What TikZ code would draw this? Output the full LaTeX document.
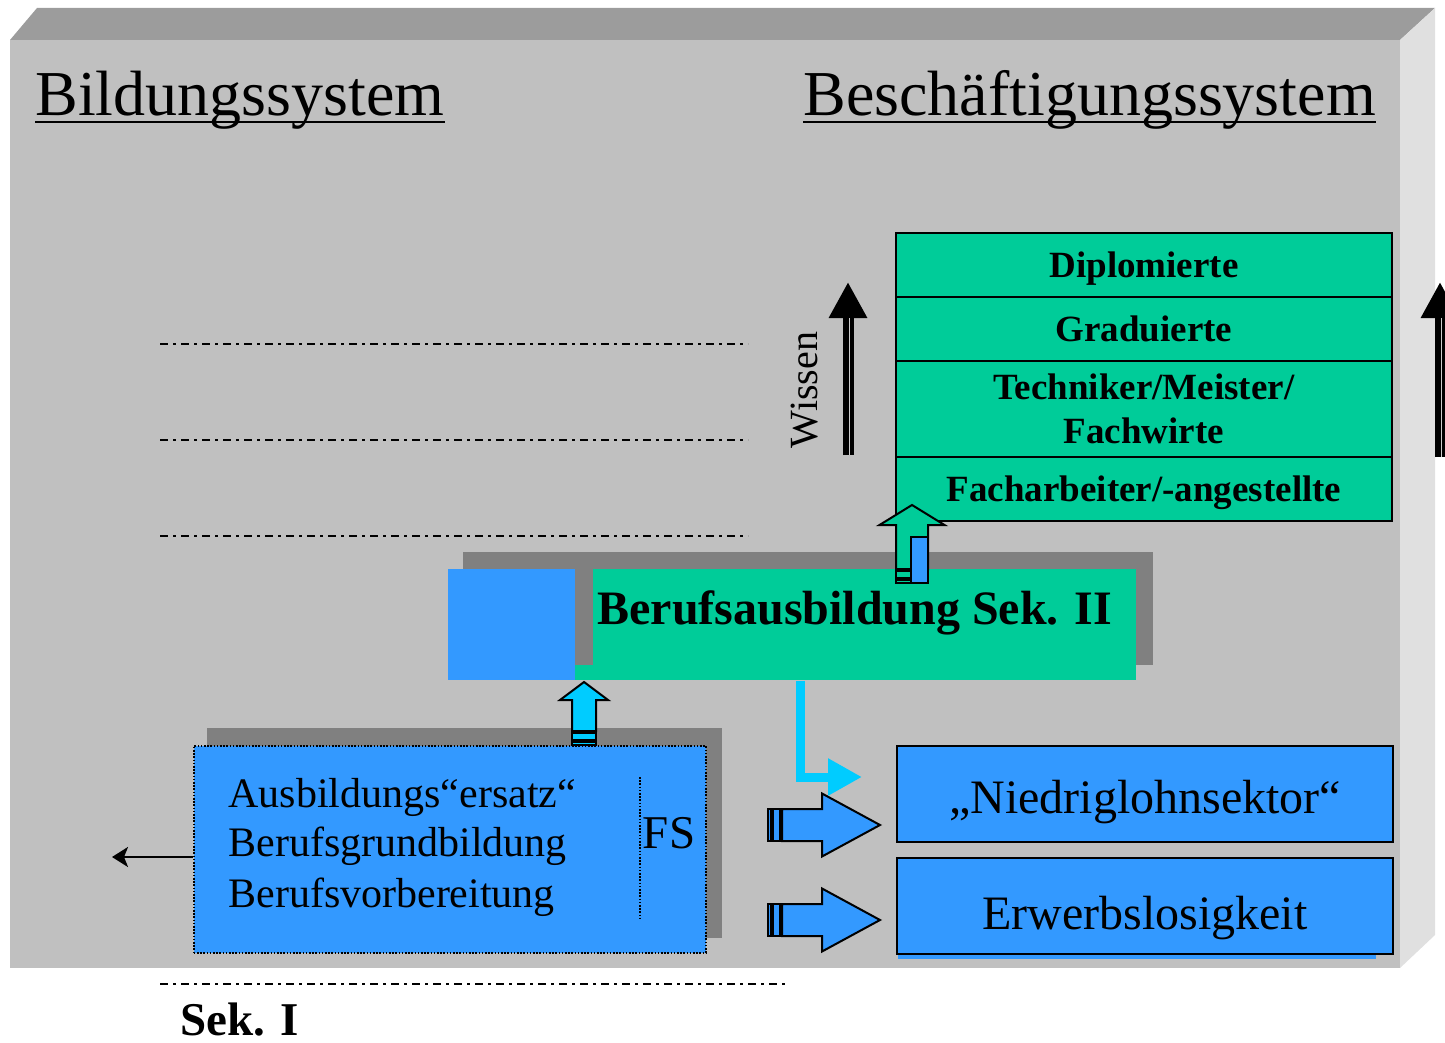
\documentclass[tikz,border=0pt]{standalone}
\usepackage{fontspec}
\setmainfont{Liberation Serif}
\usepackage{tikz}
\usetikzlibrary{positioning,arrows.meta,calc}
\definecolor{bggray}{HTML}{C0C0C0}
\definecolor{topgray}{HTML}{9C9C9C}
\definecolor{sidegray}{HTML}{E0E0E0}
\definecolor{shadowgray}{HTML}{808080}
\definecolor{cgreen}{HTML}{00CC99}
\definecolor{cblue}{HTML}{3399FF}
\definecolor{ccyan}{HTML}{00CCFF}
\tikzset{
  levelbox/.style={draw, line width=1pt, fill=cgreen, minimum width=248pt, minimum height=32pt, inner sep=0pt, outer sep=0pt, align=center, font=\bfseries\fontsize{18.5pt}{22pt}\selectfont},
  onerow/.style={levelbox, text height=12.2pt, text depth=0pt},
  outbox/.style={draw, line width=1pt, fill=cblue, minimum width=248pt, minimum height=48pt, inner sep=0pt, text depth=0pt, font=\fontsize{24pt}{24pt}\selectfont},
  headline/.style={anchor=base west, inner sep=0pt, font=\fontsize{32pt}{32pt}\selectfont},
  fsline/.style={anchor=base west, inner sep=0pt, font=\fontsize{21pt}{21pt}\selectfont},
  levelline/.style={line width=1pt, dash pattern=on 4pt off 2.5pt on 1.5pt off 2.5pt},
  knowarrow/.style={line width=5.5pt, -{Triangle[length=18pt,width=18pt]}},
  feed/.style={line width=4.5pt, ccyan, -{Triangle[length=17pt,width=17.5pt]}},
  outarrow/.style={line width=1.2pt, -{Stealth[length=8pt,width=10pt,inset=2pt]}},
  pics/fatarrow/.style n args={5}{code={%
    \filldraw[fill=#5, line width=1pt] (0,-#2/2) rectangle (3,#2/2);
    \filldraw[fill=#5, line width=1pt] (5,-#2/2) rectangle (12,#2/2);
    \filldraw[fill=#5, line width=1pt] (14,-#2/2) -- (#1-#4,-#2/2) -- (#1-#4,-#3/2) -- (#1,0)
      -- (#1-#4,#3/2) -- (#1-#4,#2/2) -- (14,#2/2) -- cycle;
  }},
}
\begin{document}
\begin{tikzpicture}[x=0.5pt, y=-0.5pt]
  \useasboundingbox (0,0) rectangle (1445,1043);
  \clip (0,0) rectangle (1445,1043);
  % raised panel
  \fill[bggray] (10,40) rectangle (1400,968);
  \fill[topgray] (10,40) -- (37,8) -- (1435,8) -- (1400,40) -- cycle;
  \fill[sidegray] (1400,40) -- (1435,8) -- (1435,935) -- (1400,968) -- cycle;

  \node[headline] (bild) at (35,116) {Bildungssystem};
  \node[headline] (besch) at (803,116) {Beschäftigungssystem};
  \draw[line width=1.2pt] ([yshift=-3pt]bild.base west) -- ([yshift=-3pt]bild.base east);
  \draw[line width=1.2pt] ([yshift=-3pt]besch.base west) -- ([yshift=-3pt]besch.base east);

  % levels
  \draw[levelline] (160,344) -- (748,344);
  \draw[levelline] (160,440) -- (748,440);
  \draw[levelline] (160,536) -- (748,536);
  \draw[levelline] (160,984) -- (785,984);

  % qualification stack
  \node[onerow, anchor=north west] (dipl) at (896,233) {Diplomierte};
  \node[onerow, below=0pt of dipl] (grad) {Graduierte};
  \node[levelbox, below=0pt of grad, minimum height=48pt] (tech) {Techniker/Meister/\\Fachwirte};
  \node[onerow, below=0pt of tech] (fach) {Facharbeiter/-angestellte};

  \node[rotate=90, font=\fontsize{20pt}{20pt}\selectfont] (wissen) at (805,390) {Wissen};
  \coordinate (wbot) at (848,455); \coordinate (wtop) at (848,282);
  \draw[knowarrow] (wbot) -- (wtop);
  \draw[line width=0.6pt, white!80!black] (849.5,455) -- (849.5,318);
  \coordinate (rbot) at (1440,457); \coordinate (rtop) at (1440,282);
  \draw[knowarrow] (rbot) -- (rtop);
  \draw[line width=0.6pt, white!80!black] (1441.5,457) -- (1441.5,318);

  % Sek. II
  \fill[shadowgray] (463,552) rectangle (1153,665);
  \node[fill=cgreen, inner sep=0pt, minimum width=280.5pt, minimum height=55.5pt, anchor=north west] (sekii) at (575,569) {};
  \fill[shadowgray] (575,569) rectangle (593,665);
  \node[fill=cblue, inner sep=0pt, minimum width=63.5pt, minimum height=55.5pt, anchor=north west] (sekiiblue) at (448,569) {};
  \node[anchor=base west, inner sep=0pt, font=\bfseries\fontsize{24pt}{24pt}\selectfont] (sekiitext) at (597,624) {Berufsausbildung Sek. II};

  \pic at (912,583) [rotate=90] {fatarrow={78}{32}{65}{20}{cgreen}};
  \filldraw[fill=cblue, line width=1pt] (911,537) rectangle (928,583);

  % substitute training
  \fill[shadowgray] (207,728) rectangle (722,938);
  \node[fill=cblue, draw, line width=0.8pt, dash pattern=on 0.8pt off 0.8pt, inner sep=0pt, minimum width=256pt, minimum height=103.5pt, anchor=north west] (fs) at (193,745) {};
  \node[fsline] (ersatz) at (228,807) {Ausbildungs“ersatz“};
  \node[fsline] (grund) at (228,856) {Berufsgrundbildung};
  \node[fsline] (vorb) at (228,907) {Berufsvorbereitung};
  \draw[line width=0.8pt, dash pattern=on 0.8pt off 0.8pt] (640,777) -- (640,918);
  \node[inner sep=0pt, font=\fontsize{23.5pt}{23.5pt}\selectfont] (fslabel) at (669,833) {FS};
  \pic at (584,745) [rotate=90] {fatarrow={63}{24}{48}{18}{ccyan}};

  \coordinate (leftend) at (112,857);
  \draw[outarrow] (fs.west |- 0,857) -- (leftend);

  % employment side
  \fill[cblue] (898,900) rectangle (1376,959);
  \node[outbox, anchor=north west, text height=19pt] (niedrig) at (896,745) {„Niedriglohnsektor“};
  \node[outbox, anchor=north west, text height=23pt] (erwerb) at (896,857) {Erwerbslosigkeit};
  \pic at (768,825) {fatarrow={112}{32}{63}{58}{cblue}};
  \pic at (768,920) {fatarrow={112}{32}{63}{58}{cblue}};

  \coordinate (feedend) at (862,777);
  \draw[feed] (800,0 |- sekii.south) |- (feedend);

  \node[anchor=base west, inner sep=0pt, font=\bfseries\fontsize{23.5pt}{23.5pt}\selectfont] (seki) at (180,1035) {Sek. I};
\end{tikzpicture}
\end{document}
